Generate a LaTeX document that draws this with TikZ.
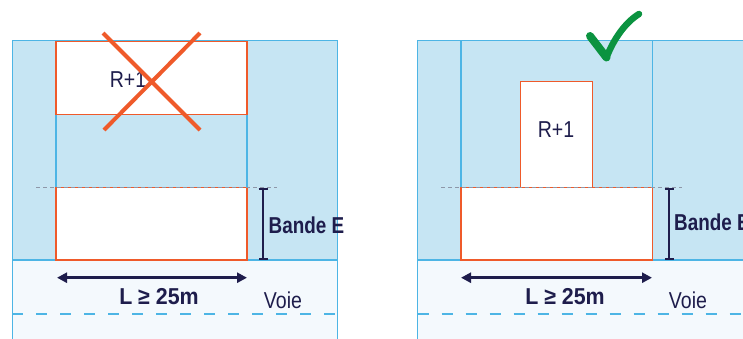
\documentclass[tikz,border=0pt]{standalone}
\usepackage{fontspec}
\setmainfont{Liberation Sans}
\usetikzlibrary{arrows.meta}
\definecolor{zoneblue}{HTML}{C6E5F3}
\definecolor{lineblue}{HTML}{4DB5E5}
\definecolor{roadpale}{HTML}{F4F9FD}
\definecolor{bldorange}{HTML}{EF5A2A}
\definecolor{navy}{HTML}{1E1D4C}
\definecolor{greyline}{HTML}{8E97A8}
\definecolor{okgreen}{HTML}{0B9340}
\tikzset{
  bld/.style={draw=bldorange, line width=1.3pt, fill=white, inner sep=0pt},
  blueline/.style={draw=lineblue, line width=1.3pt},
  limit/.style={draw=greyline, line width=0.9pt, dash pattern=on 4pt off 3pt},
  roadaxis/.style={draw=lineblue, line width=1.3pt, dash pattern=on 11pt off 13pt},
  bracket/.style={draw=navy, line width=2pt, {Bar[width=9pt]}-{Bar[width=9pt]}},
  dimarrow/.style={draw=navy, line width=2.6pt, {Triangle[length=10pt,width=10pt]}-{Triangle[length=10pt,width=10pt]}},
  txt/.style={text=navy, inner sep=0pt, font=\fontsize{23}{26}\selectfont},
  cross/.style={draw=bldorange, line width=4pt},
}
\begin{document}
\begin{tikzpicture}[x=1pt,y=-1pt]
\useasboundingbox (0,0) rectangle (743,338);
\fill[white] (0,0) rectangle (743,338);

% ===== Left panel =====
\fill[zoneblue] (12.3,40.7) rectangle (337.3,260);
\fill[roadpale] (12.3,260) rectangle (337.3,340);
\draw[blueline] (12.3,345) -- (12.3,40.7) -- (337.3,40.7) -- (337.3,345);
\draw[blueline] (12.3,260) -- (337.3,260);
\draw[blueline] (56,40.7) -- (56,260);
\draw[blueline] (247,40.7) -- (247,260);
\draw[roadaxis] (12.3,314) -- (337.3,314);

\node[bld, minimum width=191pt, minimum height=72.6pt] (Lup) at (151.5,78) {};
\node[bld, minimum width=191pt, minimum height=72.3pt] (Llow) at (151.5,223.9) {};
\draw[limit] (36,187.7) -- (277,187.7);
\node[txt] (Lr1) at (128,80) {\scalebox{0.85}[1]{R+1}};
\coordinate (cxa) at (103,33);
\coordinate (cxb) at (200,130);
\coordinate (cxc) at (200,33);
\coordinate (cxd) at (104,130);
\draw[cross] (cxa) -- (cxb);
\draw[cross] (cxc) -- (cxd);

\coordinate (Lbt) at (263,188);
\coordinate (Lbb) at (263,260);
\draw[bracket] (Lbt) -- (Lbb);
\node[txt, anchor=west] (Lbande) at (268.5,225) {\scalebox{0.82}[1]{\bfseries Bande E}};

\coordinate (Laa) at (57,277.7);
\coordinate (Lab) at (247,277.7);
\draw[dimarrow] (Laa) -- (Lab);
\node[txt] (LL) at (159,296.5) {\scalebox{0.93}[1]{\bfseries L ≥ 25m}};
\node[txt] (Lvoie) at (283,300) {\scalebox{0.85}[1]{Voie}};

% ===== Right panel =====
\fill[zoneblue] (417.7,40.7) rectangle (760,260);
\fill[roadpale] (417.7,260) rectangle (760,340);
\draw[blueline] (417.7,345) -- (417.7,40.7) -- (760,40.7);
\draw[blueline] (417.7,260) -- (760,260);
\draw[blueline] (461,40.7) -- (461,260);
\draw[blueline] (652.7,40.7) -- (652.7,260);
\draw[roadaxis] (417.7,314) -- (760,314);

\node[bld, minimum width=72pt, minimum height=107.3pt] (Rup) at (556.7,135.3) {};
\node[bld, minimum width=191.7pt, minimum height=72.3pt] (Rlow) at (556.85,223.9) {};
\draw[limit] (441,187.7) -- (682,187.7);
\node[txt] (Rr1) at (556,130) {\scalebox{0.85}[1]{R+1}};

\coordinate (Rbt) at (669,188);
\coordinate (Rbb) at (669,260);
\draw[bracket] (Rbt) -- (Rbb);
\node[txt, anchor=west] (Rbande) at (674,222) {\scalebox{0.82}[1]{\bfseries Bande E}};

\coordinate (Raa) at (461,277.7);
\coordinate (Rab) at (652,277.7);
\draw[dimarrow] (Raa) -- (Rab);
\node[txt] (RL) at (565,296.5) {\scalebox{0.93}[1]{\bfseries L ≥ 25m}};
\node[txt] (Rvoie) at (688,300) {\scalebox{0.85}[1]{Voie}};

% check mark
\coordinate (ck1) at (590,36);
\coordinate (ck2) at (606.5,57.5);
\coordinate (ck3) at (639,14);
\draw[okgreen, line width=8pt, line cap=round] (ck1) -- (ck2);
\draw[okgreen, line width=6.5pt, line cap=round] (ck2) .. controls (614,38) and (626,22) .. (ck3);
\end{tikzpicture}
\end{document}
